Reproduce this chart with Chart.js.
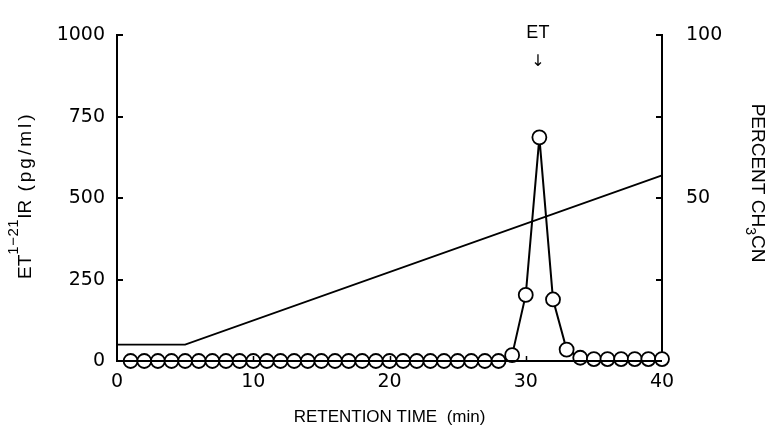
<!DOCTYPE html>
<html>
<head>
<meta charset="utf-8">
<script src="https://cdn.jsdelivr.net/npm/chart.js@4/dist/chart.umd.min.js"></script>
<style>
  html, body { margin: 0; padding: 0; background: #fff; }
  canvas { display: block; }
</style>
</head>
<body>
<canvas id="chart" width="772" height="438"></canvas>
<script>
// Retention time of each collected fraction (min)
const fractionTimes = [1, 2, 3, 4, 5, 6, 7, 8, 9, 10,
                       11, 12, 13, 14, 15, 16, 17, 18, 19, 20,
                       21, 22, 23, 24, 25, 26, 27, 28, 29, 30,
                       31, 32, 33, 34, 35, 36, 37, 38, 39, 40];
// ET(1-21) immunoreactivity measured in each fraction (pg/ml)
const etIR = [0, 0, 0, 0, 0, 0, 0, 0, 0, 0,
              0, 0, 0, 0, 0, 0, 0, 0, 0, 0,
              0, 0, 0, 0, 0, 0, 0, 0, 18, 203,
              687, 189, 35, 10, 6, 6, 6, 6, 6, 6];
// Acetonitrile gradient program
const gradientTimes = [0, 5, 40];
const gradientPercent = [5, 5, 57];
// Axis ticks
const timeTicks = [0, 10, 20, 30, 40];
const irTicks = [0, 250, 500, 750, 1000];
const percentTicks = [0, 25, 50, 75, 100];
const percentLabelled = [50, 100];
// Peak annotation
const peakName = 'ET';
const peakTime = 31;

const TICK_FONT = { family: 'DejaVu Sans', size: 19 };
const TEXT_FAMILY = '"Liberation Sans", Arial, sans-serif';

// Short inward tick marks on the three drawn axes
const inwardTicks = {
  id: 'inwardTicks',
  afterDatasetsDraw(chart) {
    const { ctx, chartArea: a, scales } = chart;
    ctx.save();
    ctx.strokeStyle = '#000';
    ctx.lineCap = 'butt';
    ctx.lineWidth = 2;
    ctx.beginPath();
    irTicks.forEach(v => {
      if (v === 0) return;
      const y = Math.round(scales.y.getPixelForValue(v));
      ctx.moveTo(a.left, y); ctx.lineTo(a.left + 6, y);
    });
    percentTicks.forEach(v => {
      if (v === 0) return;
      const y = Math.round(scales.y2.getPixelForValue(v));
      ctx.moveTo(a.right, y); ctx.lineTo(a.right - 6, y);
    });
    ctx.stroke();
    ctx.lineWidth = 1.5;
    ctx.beginPath();
    timeTicks.forEach(v => {
      if (v === timeTicks[0] || v === timeTicks[timeTicks.length - 1]) return;
      const x = Math.round(scales.x.getPixelForValue(v)) + 0.5;
      ctx.moveTo(x, a.bottom); ctx.lineTo(x, a.bottom - 5);
    });
    ctx.stroke();
    ctx.restore();
  }
};

// Axis titles (with super/subscripts), peak marker and the zero baseline on top
const annotations = {
  id: 'annotations',
  afterDraw(chart) {
    const { ctx, chartArea: a, scales } = chart;
    ctx.save();
    // zero baseline across the markers
    const y0 = scales.y.getPixelForValue(irTicks[0]);
    ctx.fillStyle = '#000';
    ctx.fillRect(a.left, Math.round(y0) - 1, a.right - a.left, 2);

    // bottom title
    ctx.font = '17px ' + TEXT_FAMILY;
    ctx.textAlign = 'center';
    ctx.textBaseline = 'middle';
    ctx.fillText('RETENTION TIME  (min)', (a.left + a.right) / 2, 417);

    // peak label and arrow
    const px = scales.x.getPixelForValue(peakTime) - 1.5;
    ctx.font = '18px ' + TEXT_FAMILY;
    ctx.fillText(peakName, px, 33);
    ctx.font = '16px "DejaVu Sans"';
    ctx.fillText('\u2193', px, 62);

    // left title: ET^(1-21)IR (pg/ml)
    const leftParts = [
      { t: 'ET', size: 19, dy: 0, sp: 0 },
      { t: '1\u221221', size: 15, dy: -13, sp: 0.5 },
      { t: 'IR', size: 19, dy: 0, sp: 0 },
      { t: ' (pg/ml)', size: 19, dy: 0, sp: 3 }
    ];
    drawRun(ctx, leftParts, 31, (a.top + a.bottom) / 2 - 3, -Math.PI / 2);

    // right title: PERCENT CH3CN
    const rightParts = [
      { t: 'PERCENT CH', size: 19, dy: 0, sp: 0 },
      { t: '3', size: 14, dy: 6, sp: 0 },
      { t: 'CN', size: 19, dy: 0, sp: 0 }
    ];
    drawRun(ctx, rightParts, 752, 183, Math.PI / 2);
    ctx.restore();
  }
};

function drawRun(ctx, parts, cx, cy, angle) {
  ctx.save();
  ctx.translate(cx, cy);
  ctx.rotate(angle);
  ctx.textAlign = 'left';
  ctx.textBaseline = 'alphabetic';
  let total = 0;
  parts.forEach(p => {
    ctx.font = p.size + 'px ' + TEXT_FAMILY;
    ctx.letterSpacing = p.sp + 'px';
    p.w = ctx.measureText(p.t).width;
    total += p.w;
  });
  let x = -total / 2;
  parts.forEach(p => {
    ctx.font = p.size + 'px ' + TEXT_FAMILY;
    ctx.letterSpacing = p.sp + 'px';
    ctx.fillText(p.t, x, p.dy);
    x += p.w;
  });
  ctx.letterSpacing = '0px';
  ctx.restore();
}

Chart.defaults.color = '#000';
Chart.defaults.font.family = 'DejaVu Sans';

new Chart(document.getElementById('chart'), {
  type: 'scatter',
  data: {
    datasets: [
      {
        label: 'ET(1-21) IR',
        data: fractionTimes.map((t, i) => ({ x: t, y: etIR[i] })),
        yAxisID: 'y',
        showLine: true,
        tension: 0,
        borderColor: '#000',
        borderWidth: 2,
        pointRadius: 7,
        pointBorderWidth: 1.8,
        pointBorderColor: '#000',
        pointBackgroundColor: '#fff',
        clip: false
      },
      {
        label: 'CH3CN gradient',
        data: gradientTimes.map((t, i) => ({ x: t, y: gradientPercent[i] })),
        yAxisID: 'y2',
        showLine: true,
        tension: 0,
        borderColor: '#000',
        borderWidth: 1.8,
        pointRadius: 0,
        clip: false
      }
    ]
  },
  options: {
    responsive: false,
    animation: false,
    devicePixelRatio: 1,
    layout: { padding: { top: 20, left: 0, right: 0, bottom: 0 } },
    plugins: { legend: { display: false }, tooltip: { enabled: false } },
    scales: {
      x: {
        type: 'linear',
        position: 'bottom',
        min: timeTicks[0],
        max: timeTicks[timeTicks.length - 1],
        grid: { display: false, drawTicks: false },
        border: { display: true, color: '#000', width: 2 },
        ticks: {
          stepSize: 10, autoSkip: false, font: TICK_FONT, padding: 10, color: '#000',
          maxRotation: 0, callback: v => String(v)
        },
        afterFit(scale) { scale.height = 77; }
      },
      y: {
        type: 'linear',
        position: 'left',
        min: irTicks[0],
        max: irTicks[irTicks.length - 1],
        grid: { display: false, drawTicks: false },
        border: { display: true, color: '#000', width: 2 },
        ticks: {
          stepSize: 250, autoSkip: false, font: TICK_FONT, padding: 12, color: '#000',
          callback: v => String(v)
        },
        afterFit(scale) { scale.width = 117; }
      },
      y2: {
        type: 'linear',
        position: 'right',
        min: percentTicks[0],
        max: percentTicks[percentTicks.length - 1],
        grid: { display: false, drawTicks: false },
        border: { display: true, color: '#000', width: 2 },
        ticks: {
          stepSize: 25, autoSkip: false, font: TICK_FONT, padding: 24, color: '#000',
          callback: v => percentLabelled.includes(v) ? String(v) : ''
        },
        afterFit(scale) { scale.width = 110; }
      }
    }
  },
  plugins: [inwardTicks, annotations]
});
</script>
</body>
</html>
